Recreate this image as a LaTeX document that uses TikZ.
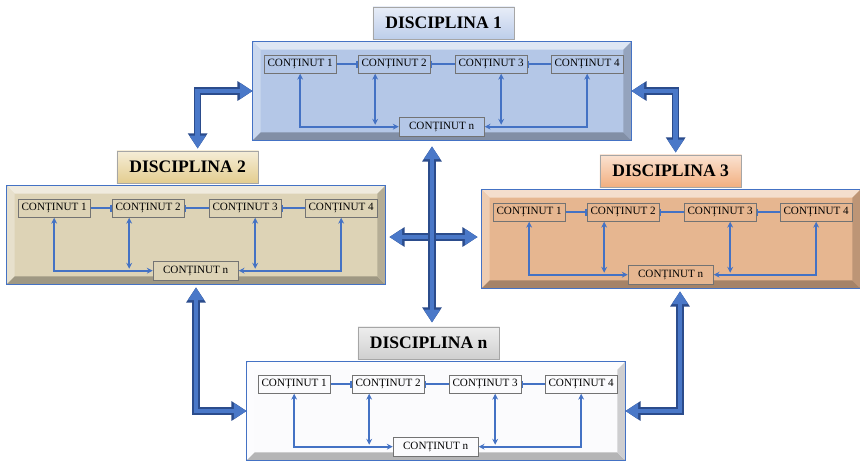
\documentclass[tikz,border=0pt]{standalone}
\usepackage{fontspec}
\setmainfont{Liberation Serif}
\usepackage{tikz}
\usetikzlibrary{calc,arrows.meta}
\definecolor{albastru}{HTML}{B4C7E7}
\definecolor{bej}{HTML}{DDD3B6}
\definecolor{piersica}{HTML}{E6B690}
\definecolor{albd}{HTML}{FBFBFD}
\definecolor{talbastru}{HTML}{BCCDEA}
\definecolor{tbej}{HTML}{E3CC8E}
\definecolor{tpiersica}{HTML}{F2AE7E}
\definecolor{tgri}{HTML}{CFCFCF}
\definecolor{linie}{HTML}{4472C4}
\definecolor{sagcol}{HTML}{4A78C8}
\definecolor{sagmargine}{HTML}{2B4C8C}
\tikzstyle{cadru} = [rectangle, draw=linie, line width=1.2pt, minimum width=322pt, minimum height=83pt, inner sep=0pt]
\tikzstyle{titlu} = [rectangle, draw=gray!70, minimum width=121pt, minimum height=28pt, font=\bfseries\fontsize{15}{17}\selectfont, inner sep=1pt]
\tikzstyle{cont} = [rectangle, draw=gray!90!black, minimum width=62pt, minimum height=16pt, font=\fontsize{9.5}{10}\selectfont, inner sep=1pt]
\tikzstyle{leg} = [draw=linie, line width=1.4pt, >={Stealth[length=5pt,width=5pt]}]
\tikzstyle{sageata} = [draw=sagcol, line width=4pt, {Triangle[width=13pt,length=11pt]}-{Triangle[width=13pt,length=11pt]}, preaction={draw=sagmargine, line width=6pt, {Triangle[width=16pt,length=13pt]}-{Triangle[width=16pt,length=13pt]}}]

\begin{document}
\begin{tikzpicture}[x=0.03cm, y=-0.03cm]
    \useasboundingbox (0,0) rectangle (860,462);
    \foreach \id/\fx/\fy/\tx/\base/\tcol/\nume in {d1/253/42/191/albastru/talbastru/1, d2/7/186/181/bej/tbej/2, d3/482/190/189/piersica/tpiersica/3, dn/247/362/182/albd/tgri/n}{
        \node[cadru, fill=\base] (\id) at (\fx+189,\fy+49) {};
        \fill[\base!45!white] (\id.north west) -- (\id.north east) -- ($(\id.north east)+(-8,8)$) -- ($(\id.north west)+(8,8)$) -- cycle;
        \fill[\base!70!white] (\id.north west) -- ($(\id.north west)+(8,8)$) -- ($(\id.south west)+(8,-8)$) -- (\id.south west) -- cycle;
        \fill[\base!72!black] (\id.south west) -- (\id.south east) -- ($(\id.south east)+(-8,-8)$) -- ($(\id.south west)+(8,-8)$) -- cycle;
        \fill[\base!82!black] (\id.north east) -- ($(\id.north east)+(-8,8)$) -- ($(\id.south east)+(-8,-8)$) -- (\id.south east) -- cycle;
        \draw[linie, line width=1.2pt] (\id.north west) rectangle (\id.south east);
        \node[titlu, top color=\tcol!35!white, bottom color=\tcol] (t\id) at ($(\id.north west)+(\tx,-18.5)$) {DISCIPLINA \nume};
        \node[cont, fill=\base] (\id c1) at ($(\id.north west)+(47.5,22.5)$) {CONȚINUT 1};
        \node[cont, fill=\base] (\id c2) at ($(\id.north west)+(141.5,22.5)$) {CONȚINUT 2};
        \node[cont, fill=\base] (\id c3) at ($(\id.north west)+(238.5,22.5)$) {CONȚINUT 3};
        \node[cont, fill=\base] (\id c4) at ($(\id.north west)+(334.5,22.5)$) {CONȚINUT 4};
        \node[cont, fill=\base, minimum width=73pt] (\id cn) at ($(\id.north west)+(189,85)$) {CONȚINUT n};
        \draw[leg, -{Bar[width=6pt]}] (\id c1) -- (\id c2);
        \draw[leg, {Bar[width=6pt]}-] (\id c2) -- (\id c3);
        \draw[leg, {Bar[width=6pt]}-] (\id c3) -- (\id c4);
        \draw[leg, <->] (\id c1.south) |- (\id cn.west);
        \draw[leg, <->] (\id c4.south) |- (\id cn.east);
        \draw[leg, <->] ($(\id c2.south)+(-19,0)$) -- ($(\id c2.south |- \id cn.west)+(-19,-2)$);
        \draw[leg, <->] ($(\id c3.south)+(10,0)$) -- ($(\id c3.south |- \id cn.west)+(10,-2)$);
    }
    \coordinate (cruce) at (432,237);
    \draw[sageata] (d1.west) -| ($(td2.north)+(10,-2)$);
    \draw[sageata] (d1.east) -| ($(td3.north)+(5,-2)$);
    \draw[sageata] ($(d2.south)+(0,3)$) |- (dn.west);
    \draw[sageata] ($(d3.south)+(9,3)$) |- (dn.east);
    \draw[sageata] ($(cruce -| d2.east)+(4,0)$) -- ($(cruce -| d3.west)+(-4,0)$);
    \draw[sageata] ($(cruce |- d1.south)+(0,6)$) -- ($(cruce |- tdn.north)+(0,-4)$);
\end{tikzpicture}
\end{document}
